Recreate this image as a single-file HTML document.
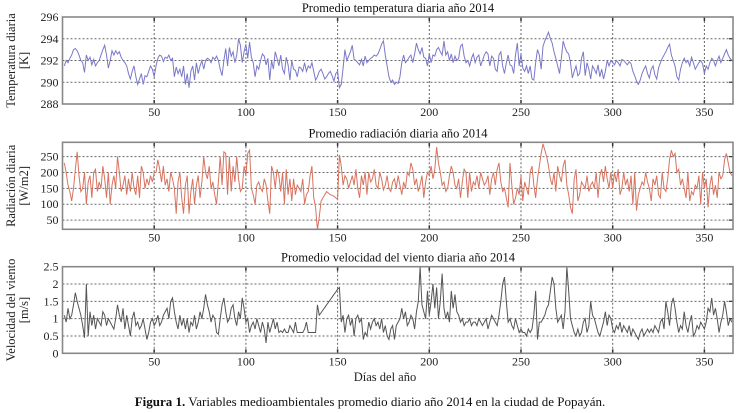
<!DOCTYPE html>
<html><head><meta charset="utf-8"><style>
body{margin:0;background:#fff}
svg{display:block;font-family:"Liberation Serif",serif}
</style></head><body>
<svg id="c" width="740" height="413" xmlns="http://www.w3.org/2000/svg"></svg>
<script>
const tempVals=[291.5,292,291.8,292.2,292.5,293,293.1,292.9,292.5,292,291.8,290.9,292.5,292,292.3,291.6,292.1,291.5,291.8,292,292.5,293,293.4,292.5,291.3,292,292.9,292.5,292.9,292.6,292.8,292.3,292,291.8,291.5,290.8,290.3,291,291.5,290.5,289.8,290.3,290.8,289.8,290.6,290.5,291,291.5,291.2,290.5,291.5,292.2,292.5,292.4,291.9,292.3,292.2,292.5,292,292.2,290.5,291.4,290.8,291.2,290.5,291.5,289.8,290.8,289.5,291,291.5,290.2,291.8,290.8,291.5,292,291.2,292,292.2,292.1,291.8,292.3,292.1,292.4,292,291.2,290.6,292,293.1,291.5,293.2,292.4,292.8,291.8,292.5,294,293.4,291.8,292.8,293.5,292.2,293.7,292.3,291.8,290.5,291.5,291.2,292,292.6,292.4,291.6,292.2,290.2,292,291.2,292.8,292.2,291.5,292.5,291.2,290.8,292.3,291.6,290.2,292,291.2,291.1,290.5,291.4,291.3,291,291.8,291,291.5,291.3,291.8,291,290.2,290.5,291,291.2,290.8,290.3,290.5,290.8,291,290.6,290.1,290.8,291,289.5,289.8,291.3,293,292,292.4,292.8,293.4,292.1,292,291.8,291.6,292.1,291.5,292.4,291.8,292,292.2,292.3,292.5,292.4,292.6,293,293.5,293.8,292.5,291.5,290.5,290,290.2,289.8,290,289.9,290.5,291.8,292.5,291.8,292,292.3,292.5,291.8,292.6,293.6,293,292.6,293.2,292.3,292.2,291.5,292.6,291.8,292.5,292.4,293,293.2,292.8,292.5,293.8,292.5,292.8,292,292.6,291.8,292.4,292,292.2,293.3,293.5,292.4,291.8,292,291.5,292.2,292.6,291.8,292.3,292.5,291.5,292,292.5,292.8,292.6,291.5,292.4,292.2,291.2,291,292.5,292.8,291.5,290.8,291.8,292.5,291.6,291.5,290.8,292.5,293.6,291.5,292.6,291.3,291,291.5,290.8,291.5,290.3,290.2,291.8,293,292.5,291.2,293.3,293.8,294.2,294.6,294,293.6,292.8,292.2,291.5,290.8,292.2,293.8,293.2,292.8,292.6,291.8,290.4,291,291.5,290.6,290.8,292.2,292.8,290.6,291.8,291.2,290.3,291.5,291.2,290.8,291.6,290.5,291.2,290.3,291,292,291.5,292,291.8,291.6,292,291.8,291.5,292.1,292,291.8,291.6,291.9,291.7,291,290.6,290.1,289.8,290.2,290.8,291.2,291.5,290.8,290.4,291.2,291.5,290.7,290.3,291.3,291.8,292.2,292.5,292.8,293.2,293.5,292.5,292,291.5,290.5,290.2,291.2,291.8,292.2,291.8,292,291.5,292.3,291.8,291.2,291.5,291.8,292,291.7,290.8,291.5,291.2,291.8,292.2,292,291.5,292,292.4,291.8,292.2,292.6,293,292.5,292.2,292];
const radVals=[230,200,160,140,110,150,210,265,190,140,150,200,100,170,190,120,200,210,140,170,150,220,180,120,200,100,160,190,150,250,200,140,160,190,130,180,140,200,150,130,190,120,220,200,150,180,160,190,170,200,200,240,210,170,220,160,180,140,200,180,150,70,170,200,120,70,160,190,70,140,180,100,160,190,120,170,250,200,180,220,150,170,130,100,170,250,160,265,260,130,250,140,220,170,250,180,140,150,220,190,260,270,150,130,100,160,170,150,140,180,160,110,70,220,200,150,210,190,140,200,100,210,130,180,110,180,130,160,150,140,180,100,130,140,190,220,120,90,20,60,110,120,130,140,135,130,128,125,120,115,255,220,160,190,180,150,170,190,160,210,150,120,190,160,200,130,200,170,180,210,160,150,200,180,145,160,190,150,140,170,180,150,190,160,130,170,150,200,190,230,210,160,180,140,160,190,120,170,200,190,220,180,210,280,230,200,160,170,140,150,190,220,200,160,150,180,120,170,210,200,120,200,140,170,160,190,150,200,180,160,170,190,130,180,200,160,210,230,170,140,150,120,90,230,160,100,120,150,130,190,110,170,150,130,200,220,160,120,180,220,260,290,270,250,220,180,160,200,140,220,190,170,220,240,160,130,90,70,180,210,110,130,170,160,150,190,140,160,170,150,200,120,190,210,170,220,180,150,200,150,200,170,210,130,150,200,160,180,140,190,100,200,80,130,150,170,160,200,170,150,110,180,160,190,130,120,200,150,140,180,240,270,250,260,200,210,160,180,150,120,200,110,140,130,160,150,190,100,200,150,180,90,160,190,130,160,120,200,180,190,240,260,230,200,190];
const windVals=[1.1,0.9,1.3,1,1.1,1.4,1.75,1.5,1.3,1.1,0.8,0.45,2.0,0.5,1.2,0.8,1.1,0.7,1.0,0.9,0.8,1.2,1.1,0.8,1.0,0.9,0.8,0.7,1.0,1.4,1.1,0.9,1.3,0.7,1.1,0.8,0.5,1.0,1.2,0.8,0.9,0.7,0.8,1.0,0.7,0.4,0.6,0.9,1.0,0.8,0.9,1.1,0.8,0.9,1.1,1.2,1.3,1.0,1.5,1.6,1.2,0.9,0.7,1.1,0.8,1.0,0.7,1.0,0.6,0.9,0.8,1.1,0.7,0.9,1.2,1.0,1.3,1.7,1.4,1.2,0.9,1.1,1.0,0.6,0.55,1.0,1.4,1.6,1.2,0.9,1.0,1.3,1.4,1.0,0.8,1.2,1.0,1.6,1.3,0.9,1.0,0.6,0.8,0.9,0.7,1.0,0.8,0.6,0.9,0.7,0.3,0.9,0.6,0.8,1.0,0.7,0.9,0.6,0.65,0.6,0.7,0.6,0.6,0.8,0.7,0.6,0.9,0.6,0.6,0.6,0.6,0.7,0.9,0.6,0.6,0.6,0.6,0.6,1.4,1.1,1.17,1.25,1.32,1.4,1.47,1.55,1.62,1.7,1.77,1.85,1.9,0.9,1.1,0.6,1.0,1.1,0.8,1.0,0.5,1.0,1.1,0.9,1.0,0.4,0.6,0.5,0.9,0.7,0.9,1.0,0.8,0.9,0.7,1.0,0.6,0.8,0.5,0.4,0.7,0.8,0.4,0.8,0.9,1.0,1.3,1.0,1.2,0.8,0.9,1.1,1.0,0.7,1.2,1.5,2.5,1.4,1.2,1.0,1.8,1.1,1.5,2.0,1.3,1.9,1.0,1.5,2.3,1.3,1.0,1.2,0.9,1.8,1.3,1.7,1.2,1.1,0.9,1.0,0.8,0.9,0.9,1.0,0.8,0.9,0.9,0.8,1.0,0.9,0.8,0.9,1.0,0.7,0.9,1.1,1.0,0.9,0.8,1.1,1.5,2.0,2.2,1.5,0.9,1.0,0.8,0.7,1.0,0.8,0.6,0.7,0.6,0.6,0.5,0.7,0.6,0.7,1.1,1.8,0.4,0.9,0.9,1.0,1.1,1.3,1.4,1.8,2.2,2.0,1.3,0.9,1.0,1.1,0.7,1.2,2.5,1.8,1.0,0.8,0.6,0.5,0.7,0.5,0.6,0.9,1.0,0.6,0.8,1.5,1.1,1.0,0.8,0.6,0.5,0.7,0.9,1.2,0.8,1.1,1.0,0.7,0.6,0.8,0.7,0.9,0.6,0.8,0.7,0.6,0.8,0.5,0.7,0.6,0.5,0.4,0.6,0.7,0.5,0.6,0.7,0.6,0.7,0.6,0.8,0.7,0.6,0.9,1.0,0.7,1.5,1.2,0.8,1.4,1.6,1.3,0.9,0.6,0.8,0.7,1.2,0.8,0.6,0.9,1.1,0.5,0.6,0.8,0.7,0.9,0.8,0.7,0.9,1.3,1.2,1.6,1.1,1.3,1.0,0.6,0.9,1.1,1.5,1.2,0.8,1.0,0.9];
const xTicks=[50,100,150,200,250,300,350];
const tempTicks=[288,290,292,294,296];
const radTicks=[50,100,150,200,250];
const windTicks=[0,0.5,1,1.5,2,2.5];

const svg=document.getElementById('c');
const NS='http://www.w3.org/2000/svg';
function mk(tag,attrs,parent){const e=document.createElementNS(NS,tag);for(const k in attrs)e.setAttribute(k,attrs[k]);(parent||svg).appendChild(e);return e;}
const X0=62.5,X1=733,DMAX=365.6;
function xs(d){return X0+(d/DMAX)*(X1-X0);}

function panel(name,top,bot,ymin,ymax,ticks,vals,color,title,lab1,lab2){
  const g=mk('g',{});
  
  
  const ys=v=>bot-(v-ymin)/(ymax-ymin)*(bot-top);
  // grid
  xTicks.forEach(t=>{const l=mk('line',{x1:xs(t),x2:xs(t),y1:top,y2:bot,stroke:'#666','stroke-width':1,'stroke-dasharray':'2,2'},g);
    
    mk('line',{x1:xs(t),x2:xs(t),y1:bot,y2:bot-4,stroke:'#333','stroke-width':1.5},g);
    mk('line',{x1:xs(t),x2:xs(t),y1:top,y2:top+4,stroke:'#333','stroke-width':1.5},g);
    const tx=mk('text',{x:xs(t),y:bot+12,'font-size':12,'text-anchor':'middle',fill:'#222'},g);tx.textContent=t;
    });
  ticks.forEach(t=>{const y=ys(t);
    if(y>top+1&&y<bot-1){const l=mk('line',{x1:X0,x2:X1,y1:y,y2:y,stroke:'#666','stroke-width':1,'stroke-dasharray':'2,2'},g);
      }
    mk('line',{x1:X1,x2:X1-4,y1:y,y2:y,stroke:'#333','stroke-width':1.2},g);
    const tx=mk('text',{x:X0-4,y:y+4,'font-size':12,'text-anchor':'end',fill:'#222'},g);tx.textContent=t;
    });
  const pts=vals.map((v,i)=>xs(i+1).toFixed(2)+','+ys(v).toFixed(2)).join(' ');
  const pl=mk('polyline',{points:pts,fill:'none',stroke:color,'stroke-width':1},g);
  
  const r=mk('rect',{x:X0,y:top,width:X1-X0,height:bot-top,fill:'none',stroke:'#888','stroke-width':1.6},g);
  
  const tt=mk('text',{x:398,y:top-5,'font-size':12.5,'text-anchor':'middle',fill:'#111'},g);tt.textContent=title;
  
  const cy=(top+bot)/2;
  const a=mk('text',{x:0,y:0,'font-size':12.5,'text-anchor':'middle',fill:'#222',transform:`translate(15,${cy}) rotate(-90)`},g);a.textContent=lab1;
  
  const b=mk('text',{x:0,y:0,'font-size':12.5,'text-anchor':'middle',fill:'#222',transform:`translate(28,${cy}) rotate(-90)`},g);b.textContent=lab2;
  
}
panel('temperature',17,104,288,296,tempTicks,tempVals,'#7a78c8','Promedio temperatura diaria año 2014','Temperatura diaria','[K]');
panel('radiation',142.3,229.3,21,295,radTicks,radVals,'#d8735f','Promedio radiación diaria año 2014','Radiación diaria','[W/m2]');
panel('wind',266.7,353.3,0,2.5,windTicks,windVals,'#555','Promedio velocidad del viento diaria año 2014','Velocidad del viento','[m/s]');
const xl=mk('text',{x:385,y:381,'font-size':12.5,'text-anchor':'middle',fill:'#222'});xl.textContent='Días del año';

const cap=mk('text',{x:370,y:406,'font-size':13,'text-anchor':'middle',fill:'#111'});

const bsp=mk('tspan',{'font-weight':'bold'},cap);bsp.textContent='Figura 1.';
const rsp=mk('tspan',{},cap);rsp.textContent=' Variables medioambientales promedio diario año 2014 en la ciudad de Popayán.';
</script>
</body></html>
